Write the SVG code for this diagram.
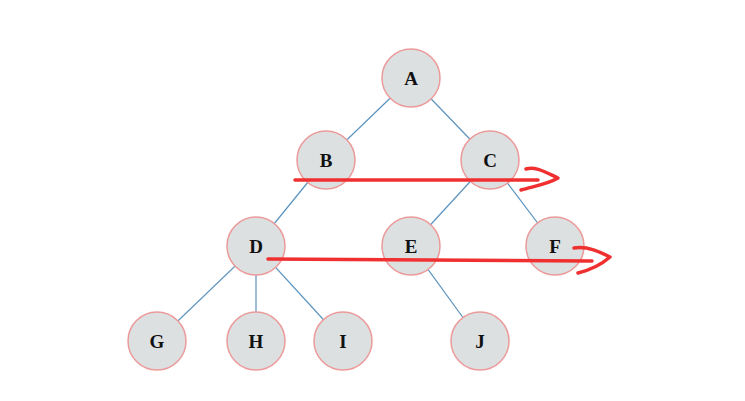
<svg xmlns="http://www.w3.org/2000/svg" width="745" height="401" viewBox="0 0 745 401">
<style>
.n circle{fill:#dde0e1;stroke:#ec9a9a;stroke-width:1.5}
.n text{font-family:"Liberation Serif","DejaVu Serif",serif;font-weight:bold;font-size:19px;fill:#111;text-anchor:middle;dominant-baseline:central}
.e line{stroke:#5b93bf;stroke-width:1.2}
.r{fill:none;stroke:#f03030;stroke-width:3.5;stroke-linecap:round;stroke-linejoin:round}
</style>
<rect width="745" height="401" fill="#fff"/>
<g id="connectors" class="e">
<line x1="411" y1="78" x2="326" y2="160"/>
<line x1="411" y1="78" x2="490" y2="160"/>
<line x1="326" y1="160" x2="256" y2="246"/>
<line x1="490" y1="160" x2="411" y2="246"/>
<line x1="490" y1="160" x2="555" y2="246"/>
<line x1="256" y1="246" x2="157" y2="341"/>
<line x1="256" y1="246" x2="256" y2="341"/>
<line x1="256" y1="246" x2="343" y2="341"/>
<line x1="411" y1="246" x2="480" y2="341"/>
</g>
<g id="A" class="n"><circle cx="411" cy="78" r="29"/><text x="411" y="78">A</text></g>
<g id="B" class="n"><circle cx="326" cy="160" r="29"/><text x="326" y="160">B</text></g>
<g id="C" class="n"><circle cx="490" cy="160" r="29"/><text x="490" y="160">C</text></g>
<g id="D" class="n"><circle cx="256" cy="246" r="29"/><text x="256" y="246">D</text></g>
<g id="E" class="n"><circle cx="411" cy="246" r="29"/><text x="411" y="246">E</text></g>
<g id="F" class="n"><circle cx="555" cy="246" r="29"/><text x="555" y="246">F</text></g>
<g id="G" class="n"><circle cx="157" cy="341" r="29"/><text x="157" y="341">G</text></g>
<g id="H" class="n"><circle cx="256" cy="341" r="29"/><text x="256" y="341">H</text></g>
<g id="I" class="n"><circle cx="343" cy="341" r="29"/><text x="343" y="341">I</text></g>
<g id="J" class="n"><circle cx="480" cy="341" r="29"/><text x="480" y="341">J</text></g>
<g id="annotations">
<path class="r" d="M295,180 L538,180"/>
<path class="r" d="M526,169 C535,166 545,172 558,178 C548,184 535,186 521,190"/>
<path class="r" d="M268,259 L592,261"/>
<path class="r" d="M574,248 C588,246 600,252 610,257 C602,264 590,270 578,273"/>
</g>
</svg>
